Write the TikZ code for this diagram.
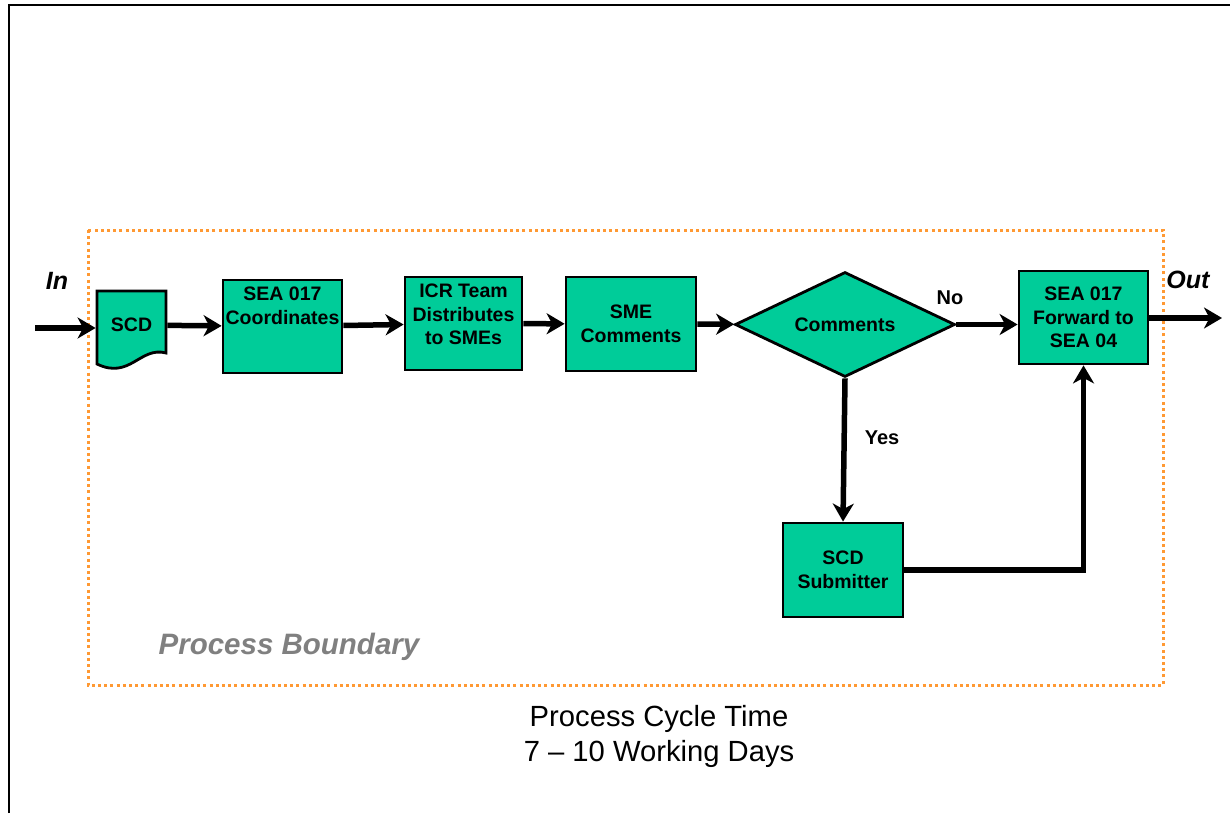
\documentclass[tikz,border=0pt]{standalone}
\usepackage{fontspec}
\setmainfont{Liberation Sans}
\usetikzlibrary{
  arrows.meta,
  calc,
  positioning,
  shapes.geometric
}
\definecolor{flowGreen}{HTML}{00CC99}
\definecolor{flowBorder}{HTML}{FF9933}
\definecolor{flowGray}{HTML}{808080}
\tikzset{
  flowBox/.style={
    draw=black,
    line width=2.8pt,
    fill=flowGreen,
    align=center,
    inner sep=1pt,
    font=\bfseries\fontsize{19.5}{23.5}\selectfont
  },
  topText/.style={
    label={[anchor=north, align=center, inner sep=0pt, yshift=-8.5pt,
      font=\bfseries\fontsize{19.5}{23.5}\selectfont]north:{#1}}
  },
  flowDecision/.style={
    flowBox,
    diamond,
    aspect=2.1,
    minimum width=220pt,
    minimum height=105pt,
    inner sep=0pt
  },
  flowArrow/.style={line width=5.5pt, -{Stealth[length=18pt, width=21pt, inset=5.5pt]}},
  boundaryLine/.style={flowBorder, line width=3pt, dash pattern=on 3pt off 3.2pt},
  branchLabel/.style={font=\bfseries\fontsize{20}{24}\selectfont, inner sep=0pt},
  portLabel/.style={font=\bfseries\itshape\fontsize{25}{30}\selectfont, inner sep=0pt}
}

\begin{document}
\begin{tikzpicture}[x=1pt,y=-1pt]
  \useasboundingbox (0,0) rectangle (1230,813);
  % page frame and process boundary
  \draw[line width=2pt] (9,813) |- (1230,5);
  \draw[boundaryLine] (88,230) rectangle (1163,685);

  % document symbol
  \draw[flowBox] (97,291) -- (166,291) -- (166,353)
    .. controls (140,346) and (130,380) .. (97,364) -- cycle;
  \node[flowBox, draw=none, fill=none, minimum width=69pt, minimum height=68pt]
    (scd) at (131.5,325) {SCD};

  \node[flowBox, minimum width=119pt, minimum height=93pt,
    topText={SEA 017\\Coordinates}] (coord) at (282.5,326.5) {};
  \node[flowBox, minimum width=117pt, minimum height=93pt,
    topText={ICR Team\\Distributes\\to SMEs}] (icr) at (463.5,323.5) {};
  \node[flowBox, minimum width=130pt, minimum height=94pt]
    (sme) at (631,324) {SME\\Comments};
  \node[flowDecision] (cmt) at (845,324.5) {Comments};
  \node[flowBox, minimum width=129pt, minimum height=93pt]
    (fwd) at (1083.5,317.5) {SEA 017\\Forward to\\SEA 04};
  \node[flowBox, minimum width=120pt, minimum height=94pt]
    (sub) at (843,570) {SCD\\Submitter};

  \coordinate (inStart) at (35,328);
  \coordinate (outEnd) at (1222,318);

  \draw[flowArrow] (inStart) -- (inStart -| scd.west);
  \draw[flowArrow] (scd) -- (coord);
  \draw[flowArrow] (coord) -- (icr);
  \draw[flowArrow] (icr) -- (sme);
  \draw[flowArrow] (sme) -- (cmt);
  \draw[flowArrow] (cmt.east) -- (cmt.east -| fwd.west);
  \draw[flowArrow] (fwd.east |- outEnd) -- (outEnd);
  \draw[flowArrow] (cmt.south) -- (sub.north);
  \draw[flowArrow] (sub.east) -| (fwd.south);

  \node[portLabel] (inLbl) at (57,281) {In};
  \node[portLabel] (outLbl) at (1188,280) {Out};
  \node[branchLabel] (noLbl) at (950,298) {No};
  \node[branchLabel] (yesLbl) at (882,438) {Yes};

  \node[font=\bfseries\itshape\fontsize{29.5}{35}\selectfont, text=flowGray]
    (bndLbl) at (289,647) {Process Boundary};
  \node[align=center, font=\fontsize{29.2}{35}\selectfont]
    (cycle) at (659,736) {Process Cycle Time\\7 -- 10 Working Days};
\end{tikzpicture}
\end{document}
